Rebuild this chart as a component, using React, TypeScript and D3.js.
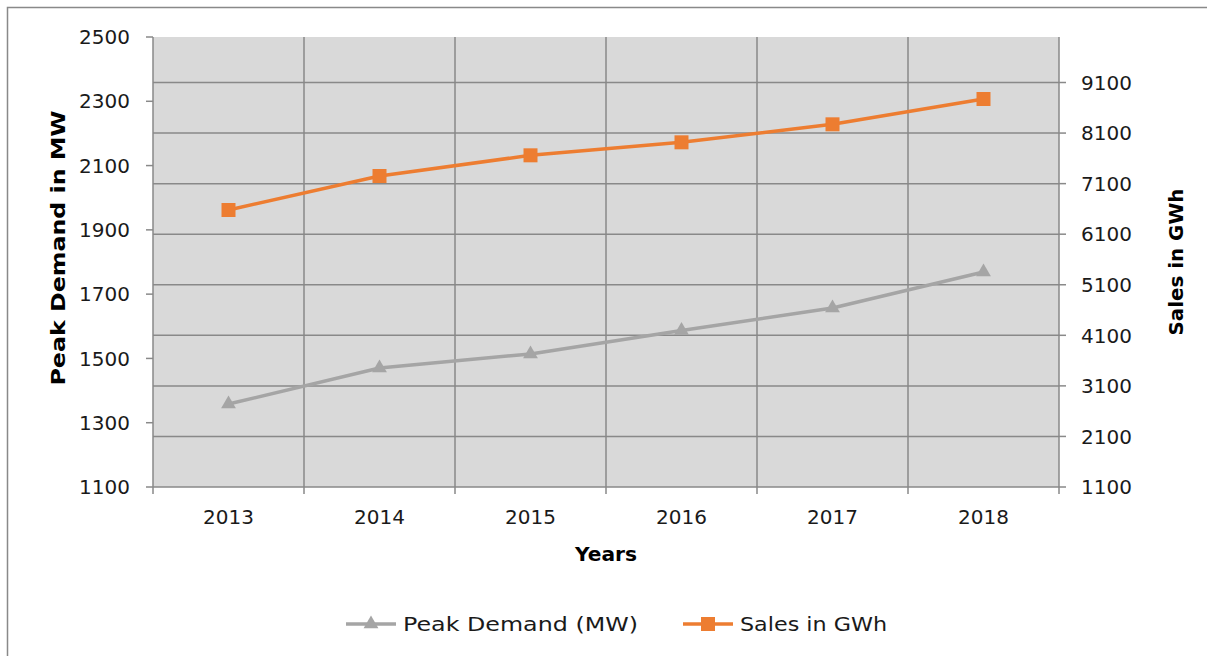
import React, { useRef, useEffect } from "react";
import * as d3 from "d3";

const years = ["2013", "2014", "2015", "2016", "2017", "2018"];
const peakDemand = [1358, 1470, 1514, 1587, 1657, 1769];
const salesGWh = [6578, 7251, 7660, 7917, 8273, 8774];
const leftTicks = [1100, 1300, 1500, 1700, 1900, 2100, 2300, 2500];
const rightTicks = [1100, 2100, 3100, 4100, 5100, 6100, 7100, 8100, 9100];

const W = 1207;
const H = 656;
const FONT = "'DejaVu Sans', sans-serif";
const GRID = "#898989";
const GRAY = "#a5a5a5";
const ORANGE = "#ed7d31";

export default function App() {
  const ref = useRef<SVGSVGElement>(null);

  useEffect(() => {
    const svg = d3.select(ref.current);
    svg.selectAll("*").remove();

    const left = 153, right = 1059, top = 37, bottom = 487;

    const x = d3.scaleBand().domain(years).range([left, right]);
    const yL = d3.scaleLinear().domain([1100, 2500]).range([bottom, top]);
    const yR = d3.scaleLinear().domain([1100, 10000]).range([bottom, top]);
    const cx = (d: string) => (x(d) as number) + x.bandwidth() / 2;

    // outer chart border (cropped at right / bottom)
    svg.append("rect")
      .attr("x", 7.5).attr("y", 7.5)
      .attr("width", W + 20).attr("height", H + 20)
      .attr("fill", "#fff").attr("stroke", GRID).attr("stroke-width", 1.5);

    // plot area
    svg.append("rect")
      .attr("x", left).attr("y", top)
      .attr("width", right - left).attr("height", bottom - top)
      .attr("fill", "#d9d9d9");

    // horizontal gridlines from the secondary axis
    svg.append("g")
      .selectAll("line")
      .data(rightTicks.slice(1))
      .join("line")
      .attr("x1", left).attr("x2", right)
      .attr("y1", (d) => yR(d)).attr("y2", (d) => yR(d))
      .attr("stroke", GRID).attr("stroke-width", 1.5);

    // vertical gridlines + x ticks at category boundaries
    const bounds = years.map((d) => x(d) as number).concat([right]);
    svg.append("g")
      .selectAll("line")
      .data(bounds)
      .join("line")
      .attr("x1", (d) => d).attr("x2", (d) => d)
      .attr("y1", top).attr("y2", bottom + 7)
      .attr("stroke", GRID).attr("stroke-width", 1.5);

    // axis lines
    svg.append("line")
      .attr("x1", left).attr("x2", right).attr("y1", bottom).attr("y2", bottom)
      .attr("stroke", GRID).attr("stroke-width", 1.5);

    // left axis
    const gl = svg.append("g");
    gl.selectAll("line")
      .data(leftTicks)
      .join("line")
      .attr("x1", left - 7).attr("x2", left)
      .attr("y1", (d) => yL(d)).attr("y2", (d) => yL(d))
      .attr("stroke", GRID).attr("stroke-width", 1.5);
    gl.selectAll("text")
      .data(leftTicks)
      .join("text")
      .attr("x", 130).attr("y", (d) => yL(d))
      .attr("dy", "0.36em")
      .attr("text-anchor", "end")
      .attr("font-family", FONT).attr("font-size", 20)
      .attr("fill", "#1a1a1a")
      .text((d) => d);

    // right axis
    const gr = svg.append("g");
    gr.selectAll("line")
      .data(rightTicks)
      .join("line")
      .attr("x1", right).attr("x2", right + 7)
      .attr("y1", (d) => yR(d)).attr("y2", (d) => yR(d))
      .attr("stroke", GRID).attr("stroke-width", 1.5);
    gr.selectAll("text")
      .data(rightTicks)
      .join("text")
      .attr("x", 1081).attr("y", (d) => yR(d))
      .attr("dy", "0.36em")
      .attr("font-family", FONT).attr("font-size", 20)
      .attr("fill", "#1a1a1a")
      .text((d) => d);

    // x labels
    svg.append("g")
      .selectAll("text")
      .data(years)
      .join("text")
      .attr("x", (d) => cx(d)).attr("y", 517)
      .attr("dy", "0.36em")
      .attr("text-anchor", "middle")
      .attr("font-family", FONT).attr("font-size", 20)
      .attr("fill", "#1a1a1a")
      .text((d) => d);

    // axis titles
    svg.append("text")
      .attr("transform", "translate(65,248) rotate(-90)")
      .attr("text-anchor", "middle")
      .attr("font-family", FONT).attr("font-size", 20).attr("font-weight", "bold")
      .attr("textLength", 275).attr("lengthAdjust", "spacingAndGlyphs")
      .text("Peak Demand in MW");
    svg.append("text")
      .attr("transform", "translate(1183,262) rotate(-90)")
      .attr("text-anchor", "middle")
      .attr("font-family", FONT).attr("font-size", 20).attr("font-weight", "bold")
      .attr("textLength", 147).attr("lengthAdjust", "spacingAndGlyphs")
      .text("Sales in GWh");
    svg.append("text")
      .attr("x", 606).attr("y", 561)
      .attr("text-anchor", "middle")
      .attr("font-family", FONT).attr("font-size", 20).attr("font-weight", "bold")
      .attr("textLength", 62).attr("lengthAdjust", "spacingAndGlyphs")
      .text("Years");

    const tri = d3.symbol(d3.symbolTriangle, 95);
    const sq = d3.symbol(d3.symbolSquare, 196);

    // series: peak demand (left axis)
    const lineL = d3.line<number>().x((_, i) => cx(years[i])).y((d) => yL(d));
    svg.append("path")
      .datum(peakDemand)
      .attr("d", lineL)
      .attr("fill", "none").attr("stroke", GRAY).attr("stroke-width", 3.5)
      .attr("stroke-linejoin", "round");
    svg.append("g")
      .selectAll("path")
      .data(peakDemand)
      .join("path")
      .attr("d", tri)
      .attr("transform", (d, i) => `translate(${cx(years[i])},${yL(d)})`)
      .attr("fill", GRAY);

    // series: sales (right axis)
    const lineR = d3.line<number>().x((_, i) => cx(years[i])).y((d) => yR(d));
    svg.append("path")
      .datum(salesGWh)
      .attr("d", lineR)
      .attr("fill", "none").attr("stroke", ORANGE).attr("stroke-width", 3.5)
      .attr("stroke-linejoin", "round");
    svg.append("g")
      .selectAll("path")
      .data(salesGWh)
      .join("path")
      .attr("d", sq)
      .attr("transform", (d, i) => `translate(${cx(years[i])},${yR(d)})`)
      .attr("fill", ORANGE);

    // legend
    const legend = [
      { label: "Peak Demand (MW)", color: GRAY, sym: tri, x: 346, len: 235 },
      { label: "Sales in GWh", color: ORANGE, sym: sq, x: 683, len: 147 },
    ];
    const lg = svg.append("g")
      .selectAll("g")
      .data(legend)
      .join("g")
      .attr("transform", (d) => `translate(${d.x},624)`);
    lg.append("line")
      .attr("x1", 0).attr("x2", 50)
      .attr("stroke", (d) => d.color).attr("stroke-width", 3.5);
    lg.append("path")
      .attr("d", (d) => d.sym())
      .attr("transform", "translate(25,0)")
      .attr("fill", (d) => d.color);
    lg.append("text")
      .attr("x", 57).attr("dy", "0.36em")
      .attr("font-family", FONT).attr("font-size", 20)
      .attr("fill", "#1a1a1a")
      .attr("textLength", (d) => d.len).attr("lengthAdjust", "spacingAndGlyphs")
      .text((d) => d.label);
  }, []);

  return (
    <svg
      ref={ref}
      width={W}
      height={H}
      style={{ position: "absolute", left: 0, top: 0, background: "#fff" }}
    />
  );
}
